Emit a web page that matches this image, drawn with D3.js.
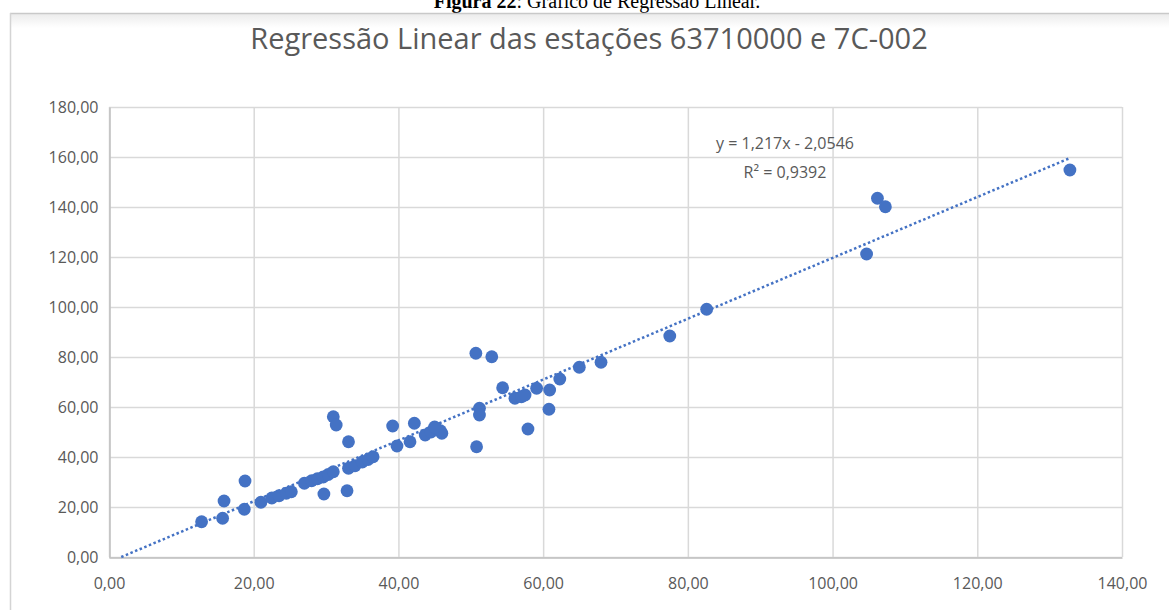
<!DOCTYPE html>
<html>
<head>
<meta charset="utf-8">
<script src="https://cdn.jsdelivr.net/npm/d3@7"></script>
<style>
  html, body { margin: 0; padding: 0; background: #ffffff; }
  svg { display: block; }
</style>
</head>
<body>
<svg id="chart" width="1169" height="610"></svg>
<script>
// ---- data ----
const xValues = [12.8, 15.7, 15.9, 18.7, 18.8, 21.0, 22.5, 23.5, 24.5, 25.2,
  27.0, 28.0, 28.8, 29.6, 30.3, 31.0, 29.7, 31.0, 31.4, 33.1, 32.9,
  33.1, 34.0, 35.0, 35.8, 36.5, 39.2, 39.8, 41.6, 42.2,
  43.7, 44.5, 45.2, 45.8, 46.0, 45.0, 50.7, 52.9, 50.8, 51.2, 51.2,
  54.4, 56.1, 57.0, 57.5, 57.9, 59.1, 60.9, 60.8, 62.3, 65.0, 68.0,
  77.5, 82.6, 104.7, 106.2, 107.3, 132.8];
const yValues = [14.1, 15.5, 22.4, 19.1, 30.4, 21.9, 23.6, 24.5, 25.5, 26.1,
  29.5, 30.5, 31.3, 32.0, 33.0, 34.1, 25.2, 56.1, 52.8, 46.1, 26.5,
  35.5, 36.5, 38.0, 39.0, 40.1, 52.4, 44.4, 46.1, 53.5,
  48.8, 50.0, 51.5, 50.5, 49.5, 52.0, 81.5, 80.1, 44.1, 59.5, 56.8,
  67.7, 63.5, 64.1, 64.8, 51.2, 67.5, 66.8, 59.1, 71.2, 75.9, 77.9,
  88.4, 99.1, 121.2, 143.5, 140.1, 154.8];
const xTicks = [0, 20, 40, 60, 80, 100, 120, 140];
const yTicks = [0, 20, 40, 60, 80, 100, 120, 140, 160, 180];
const slope = 1.217;
const intercept = -2.0546;
const equationLines = ["y = 1,217x - 2,0546", "R² = 0,9392"];
const titleText = "Regressão Linear das estações 63710000 e 7C-002";
const captionBold = "Figura 22";
const captionRest = ":  Gráfico de Regressão Linear.";

// ---- layout ----
const svg = d3.select("#chart");
const plot = { left: 109, right: 1122, top: 107, bottom: 557 };
const fmt = v => d3.format(".2f")(v).replace(".", ",");

const x = d3.scaleLinear().domain([0, 140]).range([plot.left, plot.right]);
const y = d3.scaleLinear().domain([0, 180]).range([plot.bottom, plot.top]);

// caption (partially cut at top, as in the reference)
const cap = svg.append("text")
  .attr("x", 597).attr("y", 8)
  .attr("text-anchor", "middle")
  .attr("font-family", "Liberation Serif, Times New Roman, serif")
  .attr("font-size", 20)
  .attr("fill", "#000");
cap.append("tspan").attr("font-weight", "bold").text(captionBold);
cap.append("tspan").text(captionRest);

// chart frame with soft shadow
const defs = svg.append("defs");
const grad = defs.append("linearGradient").attr("id", "shade").attr("x1", 0).attr("y1", 0).attr("x2", 0).attr("y2", 1);
grad.append("stop").attr("offset", "0%").attr("stop-color", "#ececec");
grad.append("stop").attr("offset", "100%").attr("stop-color", "#ffffff");
svg.append("rect").attr("x", 10).attr("y", 14).attr("width", 1170).attr("height", 14).attr("fill", "url(#shade)");
svg.append("line").attr("x1", 10).attr("x2", 1169).attr("y1", 13.5).attr("y2", 13.5)
  .attr("stroke", "#c9c9c9").attr("stroke-width", 1.5);
svg.append("line").attr("x1", 10.5).attr("x2", 10.5).attr("y1", 13).attr("y2", 610)
  .attr("stroke", "#d4d4d4").attr("stroke-width", 1.5);

// title
svg.append("text")
  .attr("x", 589).attr("y", 49)
  .attr("text-anchor", "middle")
  .attr("font-family", "Open Sans, sans-serif")
  .attr("font-size", 29)
  .attr("fill", "#595959")
  .text(titleText);

// gridlines
svg.append("g").selectAll("line").data(yTicks).join("line")
  .attr("x1", plot.left).attr("x2", plot.right)
  .attr("y1", d => y(d) + 0.5).attr("y2", d => y(d) + 0.5)
  .attr("stroke", "#d9d9d9").attr("stroke-width", 1.5);
svg.append("g").selectAll("line").data(xTicks).join("line")
  .attr("x1", d => x(d) + 0.5).attr("x2", d => x(d) + 0.5)
  .attr("y1", plot.top).attr("y2", plot.bottom)
  .attr("stroke", "#d9d9d9").attr("stroke-width", 1.5);

// axes
const xAxis = svg.append("g").attr("transform", `translate(0,${plot.bottom + 0.5})`)
  .call(d3.axisBottom(x).tickValues(xTicks).tickFormat(fmt).tickSize(0).tickPadding(20));
const yAxis = svg.append("g").attr("transform", `translate(${plot.left + 0.5},0)`)
  .call(d3.axisLeft(y).tickValues(yTicks).tickFormat(fmt).tickSize(0).tickPadding(11));
[xAxis, yAxis].forEach(g => {
  g.select(".domain").attr("stroke", "#bfbfbf").attr("stroke-width", 1.5);
  g.selectAll("text").attr("font-family", "Open Sans, sans-serif").attr("font-size", 16).attr("fill", "#595959");
});

// trendline
const x0 = -intercept / slope;
const x1 = d3.max(xValues);
svg.append("line")
  .attr("x1", x(x0)).attr("y1", y(slope * x0 + intercept))
  .attr("x2", x(x1)).attr("y2", y(slope * x1 + intercept))
  .attr("stroke", "#4472C4").attr("stroke-width", 2.5)
  .attr("stroke-dasharray", "2.5,2.5");

// points
svg.append("g").selectAll("circle").data(xValues.map((v, i) => [v, yValues[i]])).join("circle")
  .attr("cx", d => x(d[0])).attr("cy", d => y(d[1]))
  .attr("r", 6.4)
  .attr("fill", "#4472C4");

// equation
svg.append("g").selectAll("text").data(equationLines).join("text")
  .attr("x", 785).attr("y", (d, i) => 149 + i * 29)
  .attr("text-anchor", "middle")
  .attr("font-family", "Open Sans, sans-serif")
  .attr("font-size", 16)
  .attr("fill", "#595959")
  .text(d => d);
</script>
</body>
</html>
